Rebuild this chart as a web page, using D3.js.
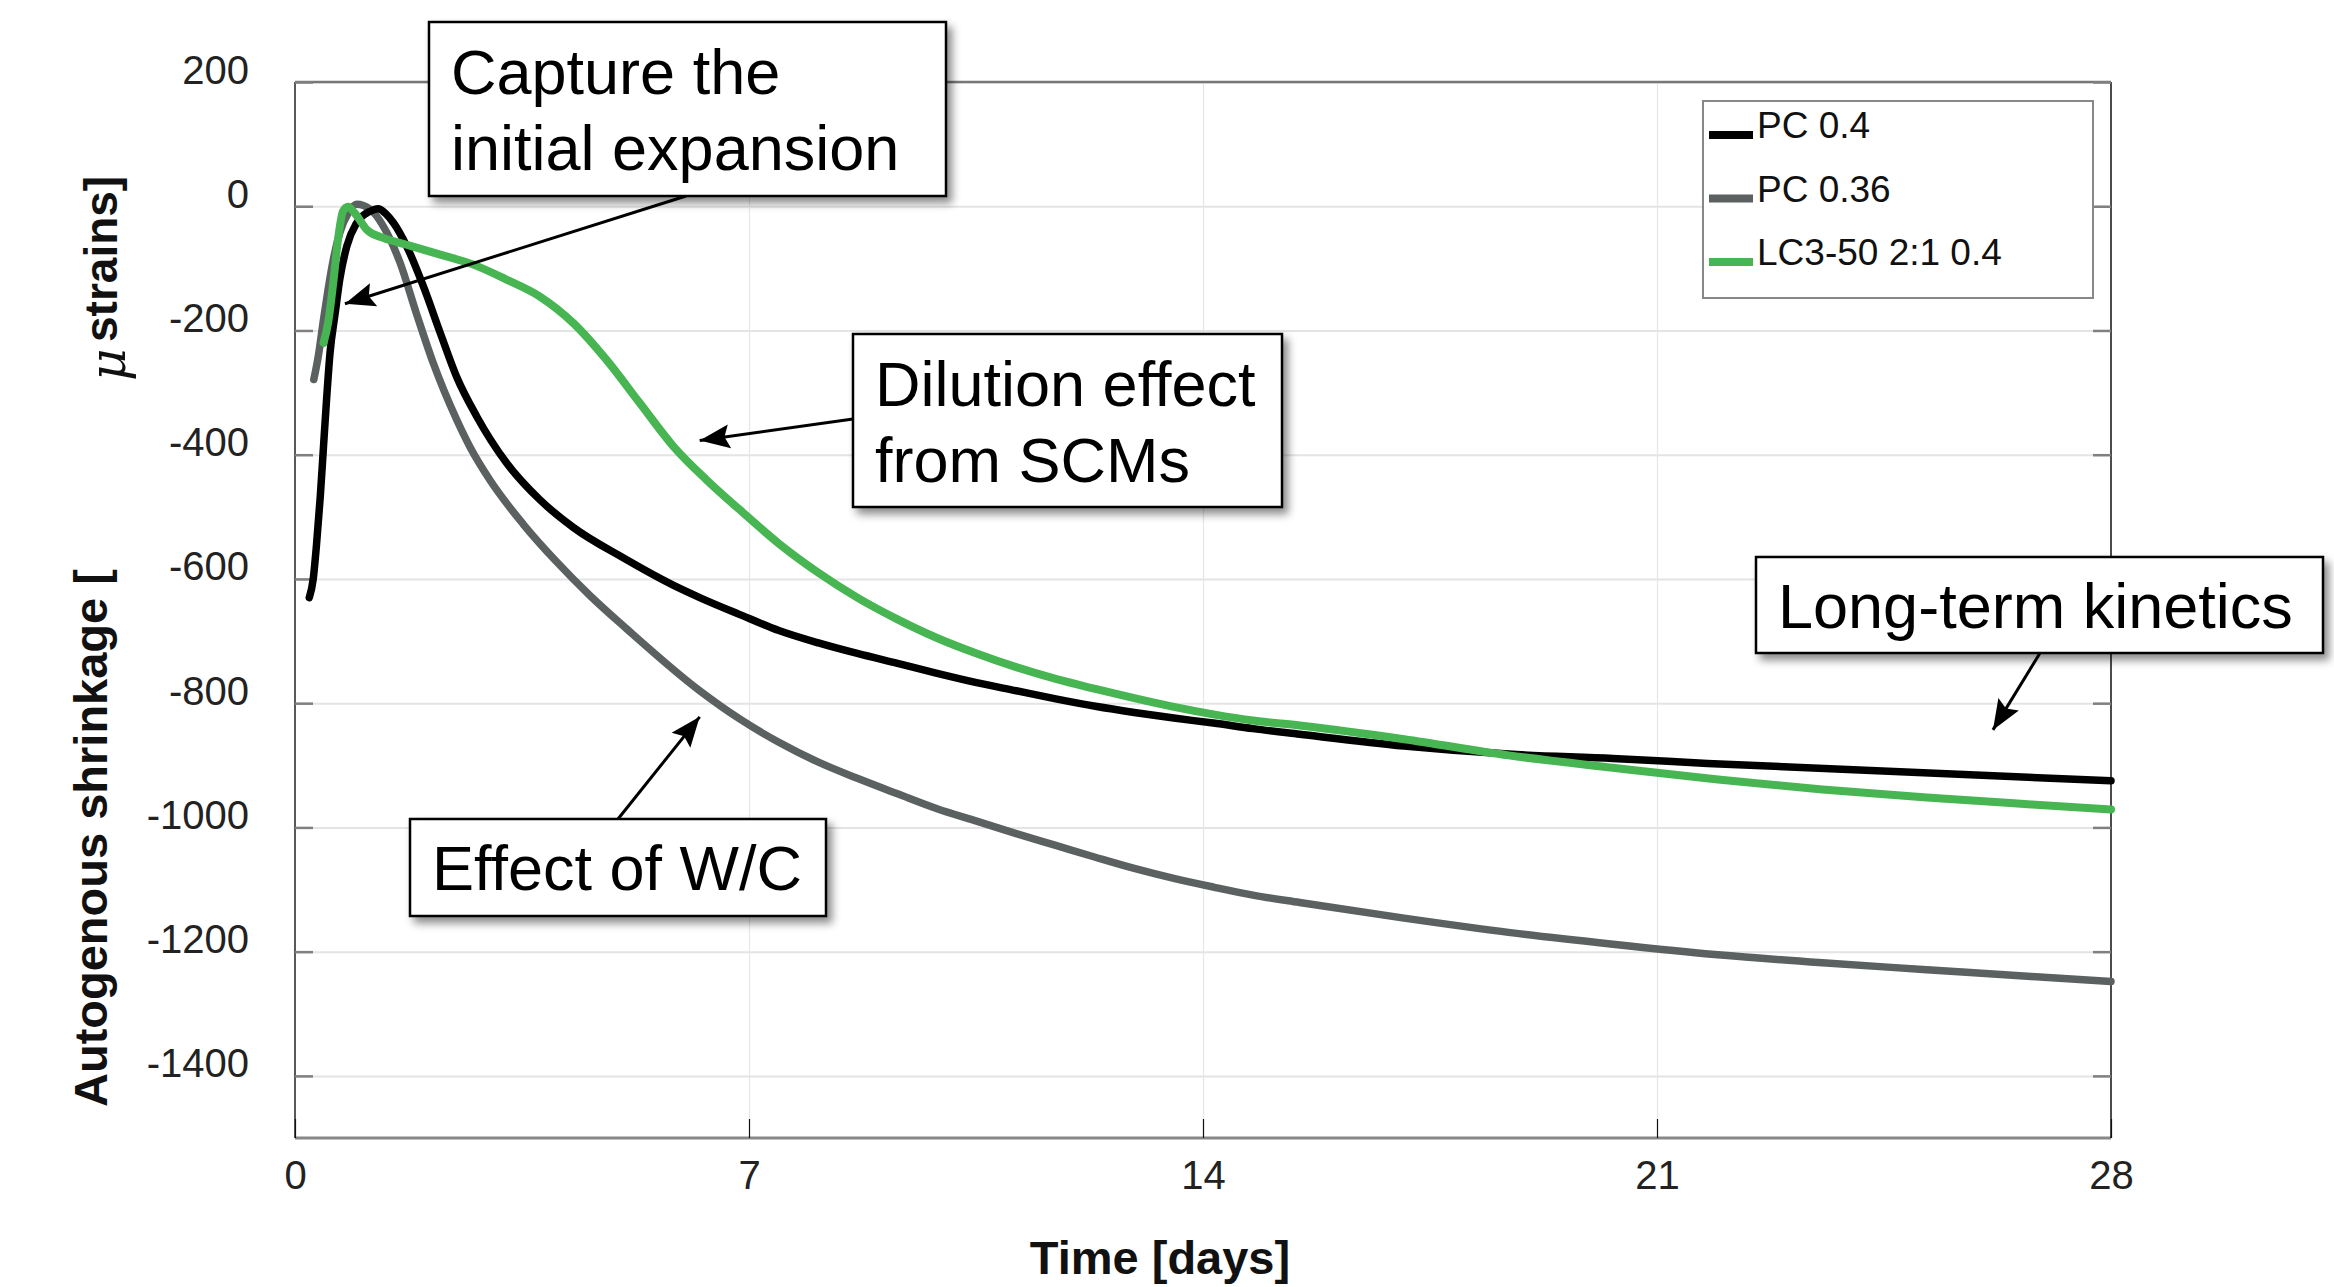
<!DOCTYPE html>
<html>
<head>
<meta charset="utf-8">
<script src="https://cdn.jsdelivr.net/npm/d3@7"></script>
<style>
  body { margin: 0; background: #fff; }
  text { font-family: "Liberation Sans", Arial, Helvetica, sans-serif; }
</style>
</head>
<body>
<svg id="chart" width="2334" height="1287"></svg>
<script>
// values (time in days, strain in microstrain)
const pc40Days = [0.22, 0.28, 0.33, 0.39, 0.44, 0.49, 0.54, 0.62, 0.69, 0.80, 0.95, 1.16, 1.28, 1.40, 1.52, 1.72, 1.98, 2.24, 2.49, 2.80, 3.26, 3.77, 4.29, 5.06, 5.83, 6.24, 6.85, 7.46, 8.07, 8.67, 9.29, 9.90, 10.51, 11.12, 11.73, 12.34, 12.94, 13.55, 14.16, 14.77, 15.49, 17.10, 18.71, 20.32, 21.78, 28.0]
const pc40Vals = [-630, -601, -547, -467, -386, -306, -236, -172, -118, -64, -27, -8, -4, -12, -27, -64, -129, -204, -274, -338, -413, -472, -517, -566, -610, -630, -657, -683, -703, -720, -736, -752, -767, -780, -793, -805, -815, -824, -832, -841, -850, -869, -882, -889, -897, -925]

const pc36Days = [0.29, 0.36, 0.44, 0.51, 0.59, 0.69, 0.82, 0.95, 1.16, 1.36, 1.62, 1.87, 2.13, 2.49, 2.70, 3.0, 3.52, 4.03, 4.55, 5.11, 6.24, 6.85, 7.46, 8.07, 8.67, 9.29, 9.90, 10.51, 11.12, 11.73, 12.34, 12.94, 13.55, 14.16, 14.77, 15.49, 17.10, 18.71, 20.32, 21.94, 23.55, 25.16, 26.77, 28.0]
const pc36Vals = [-279, -241, -182, -134, -86, -43, -11, 3, -5, -32, -91, -172, -252, -343, -388, -440, -512, -572, -627, -680, -780, -825, -863, -895, -921, -946, -970, -990, -1010, -1029, -1048, -1066, -1082, -1096, -1109, -1121, -1146, -1169, -1188, -1205, -1218, -1229, -1240, -1248]

const lc3Days = [0.44, 0.51, 0.59, 0.67, 0.74, 0.82, 0.92, 1.11, 1.36, 1.72, 2.24, 2.75, 3.26, 3.77, 4.29, 4.80, 5.31, 5.83, 6.34, 6.85, 7.46, 8.07, 8.67, 9.29, 9.90, 10.51, 11.12, 11.73, 12.34, 12.94, 13.55, 14.16, 14.77, 15.49, 17.10, 18.71, 20.32, 21.94, 23.55, 25.16, 26.77, 28.0]
const lc3Vals = [-220, -188, -123, -48, -8, -1, -11, -38, -51, -62, -78, -94, -118, -145, -188, -247, -316, -386, -440, -488, -543, -590, -630, -665, -695, -720, -742, -761, -777, -792, -806, -818, -828, -836, -858, -884, -904, -923, -939, -952, -963, -971]

const seriesNames = ['PC 0.4', 'PC 0.36', 'LC3-50 2:1 0.4']
const seriesColors = ['#000000', '#5b6060', '#47b552']

const xTicks = [0, 7, 14, 21, 28]
const yTicks = [200, 0, -200, -400, -600, -800, -1000, -1200, -1400]

const series = [
  { name: seriesNames[0], color: seriesColors[0], pts: pc40Days.map((d, i) => [d, pc40Vals[i]]) },
  { name: seriesNames[1], color: seriesColors[1], pts: pc36Days.map((d, i) => [d, pc36Vals[i]]) },
  { name: seriesNames[2], color: seriesColors[2], pts: lc3Days.map((d, i) => [d, lc3Vals[i]]) }
]

// callouts: box in pixels, arrow tip in data units
const notes = [
  { lines: ['Capture the', 'initial expansion'], box: [429, 22, 517, 174], from: [686, 196], to: [0.77, -157] },
  { lines: ['Dilution effect', 'from SCMs'], box: [853, 334, 429, 173], from: [853, 419], to: [6.24, -377] },
  { lines: ['Effect of W/C'], box: [410, 819, 416, 97], from: [618, 819], to: [6.24, -822] },
  { lines: ['Long-term kinetics'], box: [1756, 557, 567, 96], from: [2040, 653], to: [26.18, -843] }
]

const L = 295, R = 2111, T = 82, B = 1138
const svg = d3.select('#chart')
const x = d3.scaleLinear().domain([0, 28]).range([L, R])
const y = d3.scaleLinear().domain([-1500, 200]).range([B, T])

const defs = svg.append('defs')
defs.append('filter').attr('id', 'shadow')
  .attr('x', '-10%').attr('y', '-10%').attr('width', '130%').attr('height', '150%')
  .append('feDropShadow')
  .attr('dx', 5).attr('dy', 6).attr('stdDeviation', 4)
  .attr('flood-color', '#000').attr('flood-opacity', 0.45)
defs.append('marker').attr('id', 'head')
  .attr('markerUnits', 'userSpaceOnUse')
  .attr('markerWidth', 32).attr('markerHeight', 26)
  .attr('refX', 30).attr('refY', 13).attr('orient', 'auto')
  .append('path').attr('d', 'M0,1 L30,13 L0,25 L5,13 Z').attr('fill', '#000')

// grid
svg.append('g')
  .attr('transform', `translate(${L},0)`)
  .call(d3.axisLeft(y).tickValues(yTicks).tickSize(-(R - L)).tickFormat(''))
  .call(g => g.select('.domain').remove())
  .call(g => g.selectAll('line').attr('stroke', '#e4e4e4').attr('stroke-width', 2))
svg.append('g')
  .attr('transform', `translate(0,${B})`)
  .call(d3.axisBottom(x).tickValues(xTicks.slice(1, -1)).tickSize(-(B - T)).tickFormat(''))
  .call(g => g.select('.domain').remove())
  .call(g => g.selectAll('line').attr('stroke', '#e6e6e6').attr('stroke-width', 1.2))

// frame
svg.append('line').attr('x1', L).attr('x2', R).attr('y1', T).attr('y2', T).attr('stroke', '#777').attr('stroke-width', 2.5)
svg.append('line').attr('x1', L).attr('x2', R).attr('y1', B).attr('y2', B).attr('stroke', '#888').attr('stroke-width', 3)
svg.append('line').attr('x1', L).attr('x2', L).attr('y1', T).attr('y2', B).attr('stroke', '#222').attr('stroke-width', 1.5)
svg.append('line').attr('x1', R).attr('x2', R).attr('y1', T).attr('y2', B).attr('stroke', '#111').attr('stroke-width', 1.5)

// axes
svg.append('g')
  .attr('transform', `translate(${L},0)`)
  .call(d3.axisLeft(y).tickValues(yTicks).tickSize(-18).tickPadding(46).tickFormat(d => String(d)))
  .call(g => g.select('.domain').remove())
  .call(g => g.selectAll('line').attr('stroke', '#808080').attr('stroke-width', 2.5))
  .call(g => g.selectAll('text').attr('font-size', 40).attr('fill', '#222').attr('dy', 1)
    .style('font-family', '"Liberation Sans", Arial, sans-serif'))
svg.append('g')
  .attr('transform', `translate(${R},0)`)
  .call(d3.axisRight(y).tickValues(yTicks).tickSize(-18).tickFormat(''))
  .call(g => g.select('.domain').remove())
  .call(g => g.selectAll('line').attr('stroke', '#808080').attr('stroke-width', 2.5))
svg.append('g')
  .attr('transform', `translate(0,${B})`)
  .call(d3.axisBottom(x).tickValues(xTicks).tickSize(-19).tickFormat(d => String(d)))
  .call(g => g.select('.domain').remove())
  .call(g => g.selectAll('line').attr('stroke', '#111').attr('stroke-width', 1.2))
  .call(g => g.selectAll('text').attr('font-size', 40).attr('fill', '#222').attr('y', 51).attr('dy', null)
    .style('font-family', '"Liberation Sans", Arial, sans-serif'))

// axis titles
svg.append('text')
  .attr('x', (L + R) / 2 - 43).attr('y', 1274)
  .attr('text-anchor', 'middle').attr('font-size', 47).attr('font-weight', 'bold').attr('fill', '#111')
  .text('Time [days]')
svg.append('text')
  .attr('transform', 'translate(107,1107) rotate(-90)')
  .attr('font-size', 47).attr('font-weight', 'bold').attr('fill', '#111')
  .text('Autogenous shrinkage [')
svg.append('text')
  .attr('transform', 'translate(125,381) rotate(-90)')
  .attr('font-size', 50).attr('font-style', 'italic').attr('fill', '#111')
  .style('font-family', '"DejaVu Serif", "Liberation Serif", serif')
  .text('μ')
svg.append('text')
  .attr('transform', 'translate(117,342) rotate(-90)')
  .attr('font-size', 46).attr('font-weight', 'bold').attr('fill', '#111')
  .text('strains]')

// curves
const line = d3.line().x(d => x(d[0])).y(d => y(d[1])).curve(d3.curveMonotoneX)
svg.append('g').selectAll('path')
  .data([series[1], series[0], series[2]])
  .join('path')
  .attr('d', d => line(d.pts))
  .attr('fill', 'none')
  .attr('stroke', d => d.color)
  .attr('stroke-width', d => d.color === seriesColors[2] ? 8 : 7.5)
  .attr('stroke-linecap', 'round')
  .attr('stroke-linejoin', 'round')

// legend
const lg = svg.append('g')
lg.append('rect').attr('x', 1703).attr('y', 101).attr('width', 390).attr('height', 197)
  .attr('fill', '#fff').attr('stroke', '#888').attr('stroke-width', 2)
series.forEach((s, i) => {
  const yy = 138 + i * 63.5
  lg.append('line').attr('x1', 1709).attr('x2', 1753).attr('y1', yy - 3).attr('y2', yy - 3)
    .attr('stroke', s.color).attr('stroke-width', 8)
  lg.append('text').attr('x', 1757).attr('y', yy).attr('font-size', 37).attr('fill', '#111').text(s.name)
})

// callouts
notes.forEach(n => {
  const [bx, by, bw, bh] = n.box
  svg.append('line')
    .attr('x1', n.from[0]).attr('y1', n.from[1])
    .attr('x2', x(n.to[0])).attr('y2', y(n.to[1]))
    .attr('stroke', '#000').attr('stroke-width', 3)
    .attr('marker-end', 'url(#head)')
  svg.append('rect').attr('x', bx).attr('y', by).attr('width', bw).attr('height', bh)
    .attr('fill', '#fff').attr('stroke', '#000').attr('stroke-width', 2.5)
    .attr('filter', 'url(#shadow)')
  n.lines.forEach((t, i) => {
    svg.append('text')
      .attr('x', bx + 22).attr('y', by + (n.lines.length > 1 ? 72 : 71) + i * 76)
      .attr('font-size', 63).attr('fill', '#000').text(t)
  })
})
</script>
</body>
</html>
